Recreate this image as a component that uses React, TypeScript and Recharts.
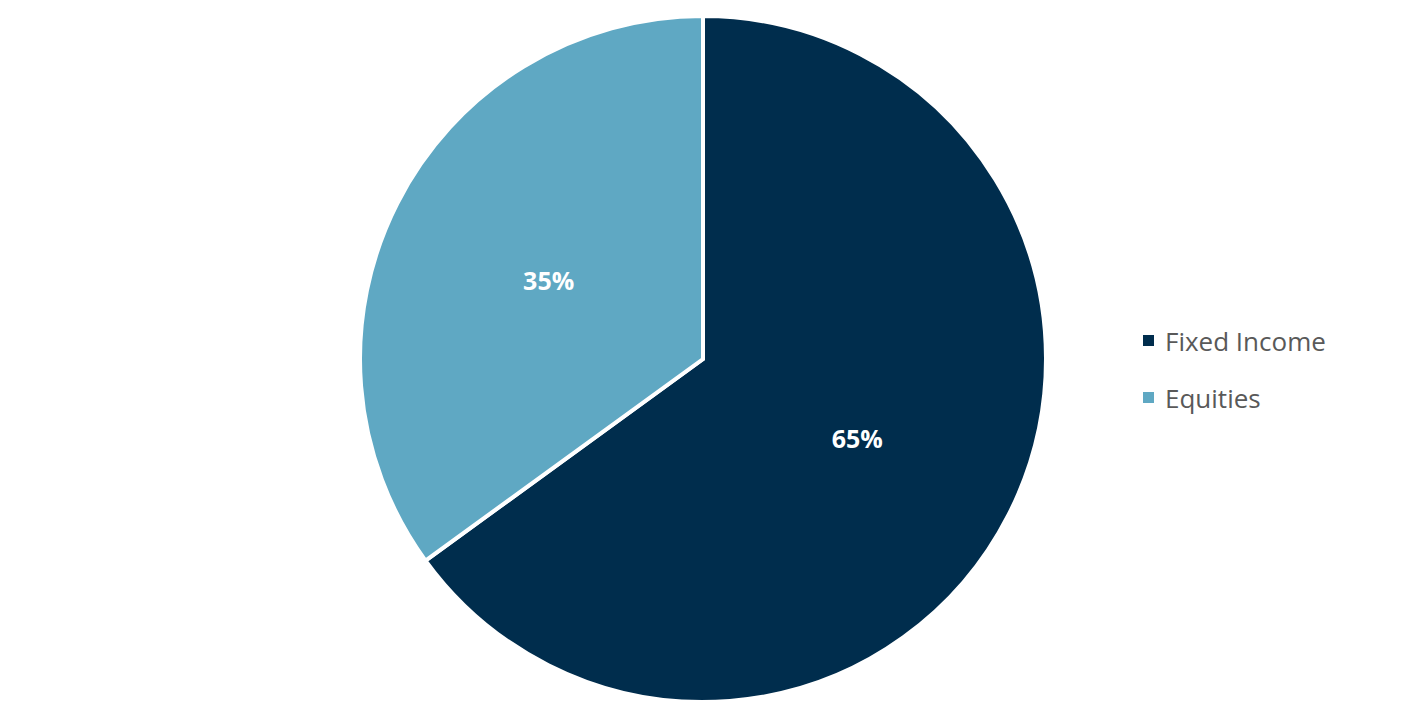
import { Cell, Legend, Pie, PieChart } from "recharts";

const categories = ["Fixed Income", "Equities"];
const shares = [65, 35];
const COLORS = ["#002D4D", "#5FA8C3"];

const data = categories.map((name, i) => ({ name, value: shares[i] }));

const RADIAN = Math.PI / 180;
const FONT = "'Open Sans', 'Noto Sans', sans-serif";

function renderLabel(props: any) {
  const { cx, cy, midAngle, outerRadius, value } = props;
  const r = outerRadius * 0.505;
  const x = cx + r * Math.cos(-midAngle * RADIAN);
  const y = cy + r * Math.sin(-midAngle * RADIAN);
  return (
    <text
      x={x}
      y={y}
      fill="#ffffff"
      textAnchor="middle"
      dominantBaseline="central"
      fontFamily={FONT}
      fontWeight={700}
      fontSize={25}
    >
      {`${value}%`}
    </text>
  );
}

function renderLegend() {
  return (
    <div style={{ fontFamily: FONT, fontSize: 26, color: "#595959" }}>
      {data.map((d, i) => (
        <div
          key={d.name}
          style={{ display: "flex", alignItems: "center", height: 57 }}
        >
          <span
            style={{
              width: 11,
              height: 11,
              background: COLORS[i],
              marginRight: 11,
              display: "inline-block",
            }}
          />
          <span>{d.name}</span>
        </div>
      ))}
    </div>
  );
}

export default function App() {
  return (
    <div style={{ position: "absolute", left: 0, top: 0, background: "#fff" }}>
      <PieChart
        width={1403}
        height={725}
        margin={{ top: 0, right: 0, bottom: 0, left: 0 }}
      >
        <Pie
          data={data}
          dataKey="value"
          nameKey="name"
          cx={703}
          cy={359}
          outerRadius={343}
          startAngle={90}
          endAngle={-270}
          stroke="#ffffff"
          strokeWidth={4}
          label={renderLabel}
          labelLine={false}
          isAnimationActive={false}
        >
          {data.map((d, i) => (
            <Cell key={d.name} fill={COLORS[i]} />
          ))}
        </Pie>
        <Legend
          content={renderLegend}
          layout="vertical"
          wrapperStyle={{ left: 1143, top: 312, width: 250 }}
        />
      </PieChart>
    </div>
  );
}
